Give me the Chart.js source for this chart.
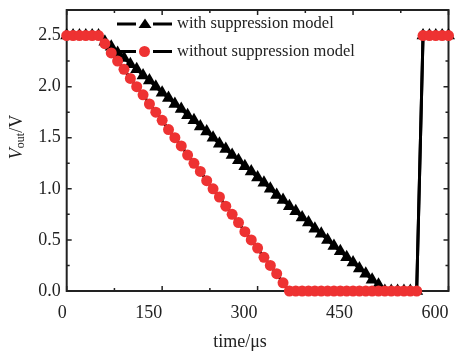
<!DOCTYPE html>
<html>
<head>
<meta charset="utf-8">
<script src="https://cdn.jsdelivr.net/npm/chart.js@4/dist/chart.umd.min.js"></script>
<style>
  html, body { margin:0; padding:0; background:#fff; }
  canvas { display:block; }
</style>
</head>
<body>
<canvas id="grafico" width="456" height="359"></canvas>
<script>
// time axis (µs)
const tempo = [0,10,20,30,40,50,60,70,80,90,100,110,120,130,140,150,160,170,180,190,200,
  210,220,230,240,250,260,270,280,290,300,310,320,330,340,350,360,370,380,390,400,
  410,420,430,440,450,460,470,480,490,500,510,520,530,540,550,560,570,580,590,600];

// Vout with suppression model (black triangles)
const comSupressao = [2.5,2.5,2.5,2.5,2.5,2.5,2.44,2.39,2.33,2.28,2.22,2.17,2.11,2.06,2.0,1.94,
  1.89,1.83,1.78,1.72,1.67,1.61,1.56,1.5,1.44,1.39,1.33,1.28,1.22,1.17,1.11,1.06,1.0,0.94,
  0.89,0.83,0.78,0.72,0.67,0.61,0.56,0.5,0.44,0.39,0.33,0.28,0.22,0.17,0.11,0.06,0,
  0,0,0,0,0,2.5,2.5,2.5,2.5,2.5];

// Vout without suppression model (red circles)
const semSupressao = [2.5,2.5,2.5,2.5,2.5,2.5,2.42,2.33,2.25,2.17,2.08,2.0,1.92,1.83,1.75,1.67,
  1.58,1.5,1.42,1.33,1.25,1.17,1.08,1.0,0.92,0.83,0.75,0.67,0.58,0.5,0.42,0.33,0.25,0.17,0.08,
  0,0,0,0,0,0,0,0,0,0,0,0,0,0,0,0,0,0,0,0,0,2.5,2.5,2.5,2.5,2.5];

const xMajor = [0,150,300,450,600];
const xMinor = [75,225,375,525];
const yMajor = [0,0.5,1.0,1.5,2.0,2.5];
const yMinor = [0.25,0.75,1.25,1.75,2.25];

const legendas = ["with suppression model","without suppression model"];
const vermelho = "#ee3232";
const serif = "'Liberation Serif', 'DejaVu Serif', serif";

function pontos(ys){ return tempo.map((t,i)=>({x:t, y:ys[i]})); }

// frame, inward ticks, legend (under the data)
const molduraPlugin = {
  id:'moldura',
  beforeDatasetsDraw(chart){
    const ctx = chart.ctx, a = chart.chartArea;
    const sx = chart.scales.x, sy = chart.scales.y;
    ctx.save();
    ctx.strokeStyle = "#222";
    ctx.lineWidth = 2;
    ctx.strokeRect(a.left, a.top, a.right-a.left, a.bottom-a.top);
    ctx.lineWidth = 1.5;
    ctx.beginPath();
    const tickX = (v,len)=>{
      const p = sx.getPixelForValue(v);
      ctx.moveTo(p,a.bottom); ctx.lineTo(p,a.bottom-len);
      ctx.moveTo(p,a.top); ctx.lineTo(p,a.top+len);
    };
    const tickY = (v,len)=>{
      const p = sy.getPixelForValue(v);
      ctx.moveTo(a.left,p); ctx.lineTo(a.left+len,p);
      ctx.moveTo(a.right,p); ctx.lineTo(a.right-len,p);
    };
    xMajor.forEach(v=>tickX(v,5)); xMinor.forEach(v=>tickX(v,3));
    yMajor.forEach(v=>tickY(v,5)); yMinor.forEach(v=>tickY(v,3));
    ctx.stroke();

    // legend
    const linhas = [24, 51.5];
    ctx.strokeStyle = "#000";
    ctx.lineWidth = 3;
    linhas.forEach(y=>{
      ctx.beginPath();
      ctx.moveTo(117,y); ctx.lineTo(136,y);
      ctx.moveTo(153,y); ctx.lineTo(172,y);
      ctx.stroke();
    });
    ctx.fillStyle = "#000";
    ctx.beginPath();
    ctx.moveTo(145,18.5); ctx.lineTo(151.5,28); ctx.lineTo(138.5,28); ctx.closePath();
    ctx.fill();
    ctx.fillStyle = vermelho;
    ctx.beginPath();
    ctx.arc(144.5,51.5,5.5,0,Math.PI*2);
    ctx.fill();
    ctx.fillStyle = "#222";
    ctx.font = "16.5px " + serif;
    ctx.textBaseline = "middle";
    ctx.textAlign = "left";
    ctx.fillText(legendas[0],177,24);
    ctx.fillText(legendas[1],177,51.5);
    ctx.restore();
  },
  afterDraw(chart){
    const ctx = chart.ctx;
    ctx.save();
    ctx.fillStyle = "#222";
    ctx.textBaseline = "middle";
    ctx.textAlign = "center";
    ctx.font = "18px " + serif;
    ctx.fillText("time/\u03bcs", 240, 342);

    // V_out/V rotated
    ctx.translate(17,137);
    ctx.rotate(-Math.PI/2);
    const fV = "italic 18px " + serif, fSub = "12px " + serif, fN = "18px " + serif;
    ctx.font = fV; const wV = ctx.measureText("V").width;
    ctx.font = fSub; const wS = ctx.measureText("out").width;
    ctx.font = fN; const wR = ctx.measureText("/V").width;
    let x = -(wV+wS+wR)/2;
    ctx.textAlign = "left";
    ctx.font = fV; ctx.fillText("V", x, 0); x += wV;
    ctx.font = fSub; ctx.fillText("out", x, 4); x += wS;
    ctx.font = fN; ctx.fillText("/V", x, 0);
    ctx.restore();
  }
};

new Chart(document.getElementById("grafico"), {
  type:'line',
  data:{
    datasets:[
      { label:legendas[0], data:pontos(comSupressao), order:1,
        borderColor:'#000', borderWidth:3, pointStyle:'triangle', pointRadius:7.5,
        pointBackgroundColor:'#000', pointBorderColor:'#000', pointBorderWidth:0,
        clip:false, tension:0 },
      { label:legendas[1], data:pontos(semSupressao), order:0,
        borderColor:'#000', borderWidth:3, pointStyle:'circle', pointRadius:5.5,
        pointBackgroundColor:vermelho, pointBorderColor:vermelho, pointBorderWidth:0,
        clip:false, tension:0 }
    ]
  },
  options:{
    responsive:false, animation:false,
    layout:{ padding:{ top:10, right:5, left:0, bottom:0 } },
    plugins:{ legend:{display:false}, tooltip:{enabled:false} },
    scales:{
      x:{ type:'linear', min:0, max:600,
        grid:{display:false, drawTicks:false}, border:{display:false},
        afterBuildTicks:s=>{ s.ticks = xMajor.map(v=>({value:v})); },
        afterFit:s=>{ s.height = 68; s.paddingLeft = 0; s.paddingRight = 0; },
        ticks:{ align:'end', padding:11, color:'#222', font:{family:serif, size:18},
          callback:v=>String(v) } },
      y:{ type:'linear', min:0, max:2.75,
        grid:{display:false, drawTicks:false}, border:{display:false},
        afterBuildTicks:s=>{ s.ticks = yMajor.map(v=>({value:v})); },
        afterFit:s=>{ s.width = 66.7; s.paddingTop = 0; s.paddingBottom = 0; },
        ticks:{ padding:6, color:'#222', font:{family:serif, size:18},
          callback:v=>v.toFixed(1) } }
    }
  },
  plugins:[molduraPlugin]
});
</script>
</body>
</html>
